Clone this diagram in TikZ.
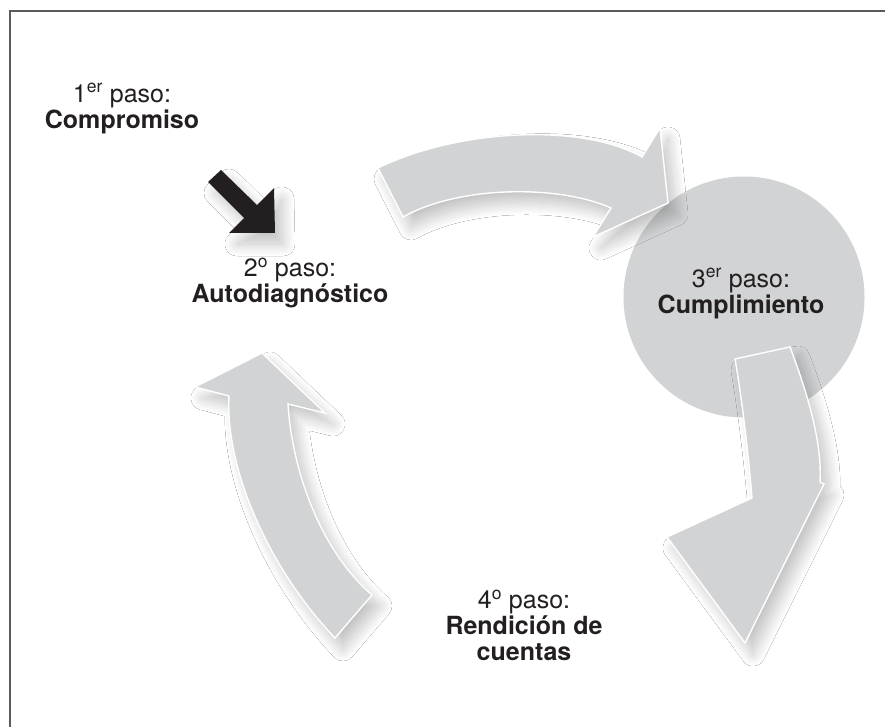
\documentclass[tikz,border=0pt]{standalone}
\usepackage{fontspec}
\setmainfont{TeX Gyre Heros}
\usetikzlibrary{shadows.blur}
\definecolor{stepgray}{HTML}{D1D3D4}
\definecolor{framegray}{HTML}{5A5B5D}
\definecolor{inkblack}{HTML}{231F20}
\begin{document}
\begin{tikzpicture}[x=1pt,y=-1pt,
  softshadow/.style={blur shadow={shadow xshift=8pt, shadow yshift=-11pt,
      shadow blur radius=12pt, shadow blur steps=20, shadow opacity=24}},
  cyclearrow/.style={fill=stepgray, draw=white, line width=1.4pt,
      line join=miter, softshadow},
  steplabel/.style={align=center, inner sep=0pt, text=inkblack,
      font=\fontsize{25}{26}\selectfont}
]
\useasboundingbox (0,0) rectangle (885,727);
\fill[white] (0,0) rectangle (885,727);

% frame
\draw[framegray, line width=2pt] (9.5,727) -- (9.5,11) -- (885,11);

% step 3 disc
\node[circle, fill=stepgray, minimum size=241pt, inner sep=0pt] (disc) at (744,297) {};

% upper arrow: step 2 -> step 3
\path[cyclearrow] (378,168)
  .. controls (455,130) and (580,122) .. (642,157)
  -- (660,128) -- (668,203) -- (593,237) -- (611,208)
  .. controls (560,185) and (460,185) .. (403,217) -- cycle;

% right arrow: step 3 -> step 4
\path[cyclearrow] (735,359) -- (790,347)
  .. controls (810,400) and (822,445) .. (820,482)
  -- (824,484) -- (745,643) -- (667,537) -- (752,498)
  .. controls (748,450) and (742,400) .. (735,359) -- cycle;

% left arrow: step 4 -> step 2
\path[cyclearrow] (262,353) -- (325,413) -- (288,404)
  .. controls (292,470) and (320,550) .. (372,595)
  -- (335,638)
  .. controls (270,570) and (225,470) .. (229,396)
  -- (195,387) -- cycle;

% black entry arrow: step 1 -> step 2
\path[fill=inkblack, softshadow] (208,182) -- (221,170) -- (257,205) -- (274,188)
  -- (275,233) -- (229,233) -- (244,218) -- cycle;

% labels
\node[steplabel] (s1) at (122,108.5) {1\textsuperscript{er} paso:\\\textbf{Compromiso}};
\node[steplabel] (s2) at (290,283) {2\textsuperscript{o} paso:\\\textbf{Autodiagnóstico}};
\node[steplabel] (s3) at (741,293.5) {3\textsuperscript{er} paso:\\\textbf{Cumplimiento}};
\node[steplabel] (s4) at (524,625.5) {4\textsuperscript{o} paso:\\\textbf{Rendición de}\\\textbf{cuentas}};
\end{tikzpicture}
\end{document}
